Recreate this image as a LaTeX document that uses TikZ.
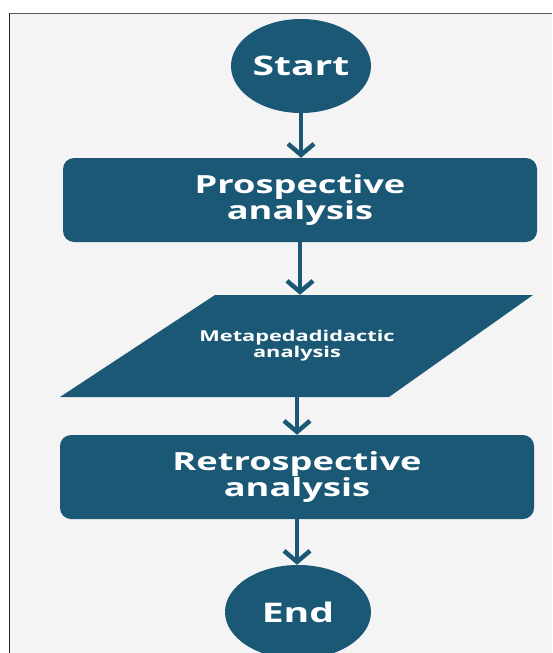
\documentclass[tikz,border=0pt]{standalone}
\usepackage{fontspec}
\usepackage{xcolor}
\usepackage{tikz}
\usetikzlibrary{arrows.meta, shapes.geometric}
\newfontfamily\flowfont[FakeStretch=1.45]{Open Sans}
\definecolor{kteal}{RGB}{26,88,118}
\definecolor{kpaper}{HTML}{F4F4F4}
\definecolor{kframe}{HTML}{5A5A5A}

\begin{document}
\begin{tikzpicture}[x=1pt, y=-1pt,
  terminal/.style={ellipse, fill=kteal, text=white, inner sep=0pt,
    minimum width=140, minimum height=94,
    font=\flowfont\bfseries\fontsize{27}{25}\selectfont},
  procbox/.style={rectangle, rounded corners=11pt, fill=kteal, text=white,
    minimum width=474, minimum height=84, align=center,
    font=\flowfont\bfseries\fontsize{25}{23}\selectfont},
  flow/.style={kteal, line width=4pt,
    -{Straight Barb[length=11pt, width=26pt, line width=4.5pt]}}]
\useasboundingbox (0,0) rectangle (552,653);
\fill[white] (0,0) rectangle (552,653);
\fill[kpaper] (10,14) rectangle (552,653);
\draw[kframe, line width=1.6pt] (9,13.5) -- (552,13.5);
\draw[black!85, line width=1.6pt] (9.5,13) -- (9.5,653);

% terminals and steps
\node[terminal] (start) at (301,66) {Start};
\node[procbox] (pros) at (300,200) {Prospective\\analysis};
\fill[kteal] (215,295) -- (533,295) -- (389,397) -- (60,397) -- cycle;
\node[text=white, align=center, inner sep=0pt, minimum height=102,
  font=\flowfont\bfseries\fontsize{15}{13}\selectfont]
  (meta) at (297,346) {Metapedadidactic\\analysis};
\node[procbox] (retro) at (297,477) {Retrospective\\analysis};
\node[terminal, minimum width=146] (end) at (298,612) {End};

% connectors
\draw[flow] (start.south) -- (start.south |- pros.north);
\draw[flow] (pros.south) -- (pros.south |- meta.north);
\draw[flow] (meta.south) -- (meta.south |- retro.north);
\draw[flow] (retro.south) -- (retro.south |- end.north);
\end{tikzpicture}
\end{document}
